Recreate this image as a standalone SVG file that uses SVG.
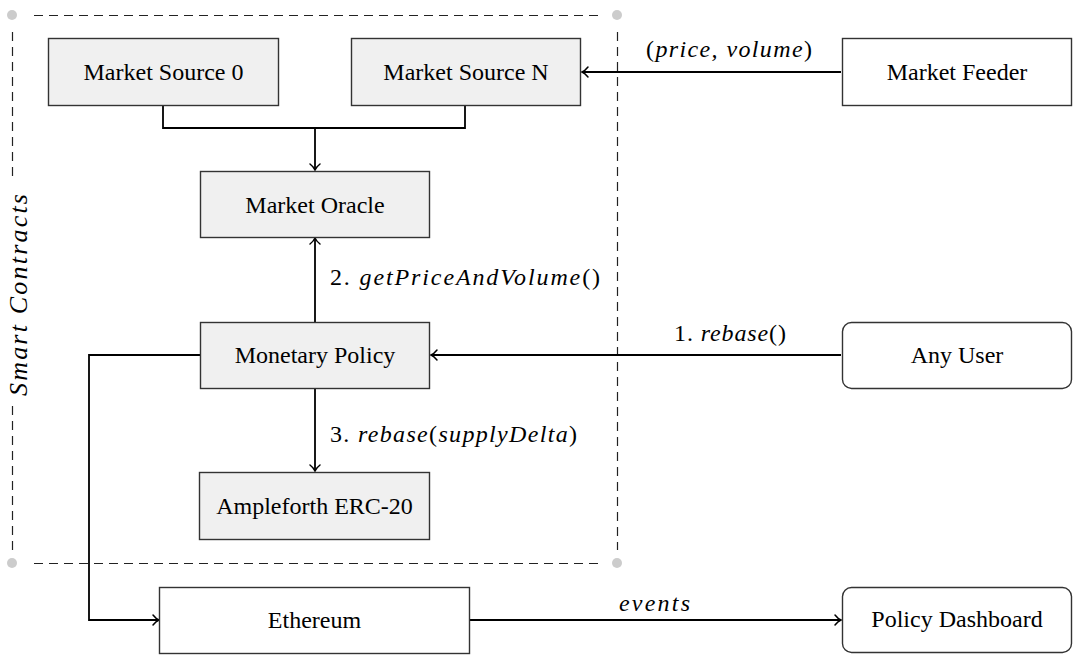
<svg xmlns="http://www.w3.org/2000/svg" width="1084" height="666" viewBox="0 0 1084 666">
<style>
.box{fill:#fff;stroke:#333;stroke-width:1.4}
.gray{fill:#f0f0f0}
.lbl{font-family:"Liberation Serif","Times New Roman",Times,serif;font-size:24px;fill:#000;text-anchor:middle}
.math{font-family:"Liberation Serif","Times New Roman",Times,serif;font-size:24px;fill:#000}
.it{font-style:italic}
.conn{fill:none;stroke:#000;stroke-width:1.8}
.dash{fill:none;stroke:#222;stroke-width:1.2;stroke-dasharray:9 6}
.dot{fill:#ccc}
</style>
<defs>
<marker id="arr" markerUnits="userSpaceOnUse" markerWidth="14" markerHeight="14" viewBox="-8 -7 10 14" refX="0" refY="0" orient="auto">
<path d="M-6,-5 C-4,-2.5 -1.5,-0.6 0,0 C-1.5,0.6 -4,2.5 -6,5" fill="none" stroke="#000" stroke-width="1.5" stroke-linecap="round"/>
</marker>
</defs>
<rect width="1084" height="666" fill="#fff"/>
<g id="smart-contracts-frame">
<path class="dash" d="M34,15.5 H604"/>
<path class="dash" d="M34,563.5 H604"/>
<path class="dash" d="M12.5,32 V182"/>
<path class="dash" d="M12.5,406 V550"/>
<path class="dash" d="M617.5,32 V550"/>
<circle class="dot" cx="12" cy="15" r="5"/>
<circle class="dot" cx="617" cy="15" r="5"/>
<circle class="dot" cx="12" cy="563" r="5"/>
<circle class="dot" cx="617" cy="563" r="5"/>
<text class="math it" style="font-size:26px" transform="translate(27,295) rotate(-90)" text-anchor="middle" textLength="202" lengthAdjust="spacing">Smart Contracts</text>
</g>
<g id="connectors">
<path class="conn" d="M163,105 V128 H465 V105"/>
<path class="conn" d="M315,128 V170" marker-end="url(#arr)"/>
<path class="conn" d="M841,72 H582" marker-end="url(#arr)"/>
<path class="conn" d="M841,355 H431" marker-end="url(#arr)"/>
<path class="conn" d="M315,322 V238" marker-end="url(#arr)"/>
<path class="conn" d="M315,389 V471" marker-end="url(#arr)"/>
<path class="conn" d="M200,355 H89 V620 H159" marker-end="url(#arr)"/>
<path class="conn" d="M470,620 H841" marker-end="url(#arr)"/>
<text class="math" x="646" y="57" textLength="166" lengthAdjust="spacing">(<tspan class="it">price, volume</tspan>)</text>
<text class="math" x="674" y="341" textLength="112" lengthAdjust="spacing">1. <tspan class="it">rebase</tspan>()</text>
<text class="math" x="330" y="285" textLength="270" lengthAdjust="spacing">2. <tspan class="it">getPriceAndVolume</tspan>()</text>
<text class="math" x="330" y="442" textLength="247" lengthAdjust="spacing">3. <tspan class="it">rebase</tspan>(<tspan class="it">supplyDelta</tspan>)</text>
<text class="math it" x="619" y="611" textLength="71" lengthAdjust="spacing">events</text>
</g>
<g id="market-source-0"><rect class="box gray" x="48.5" y="38.5" width="230" height="67"/><text class="lbl" x="163.5" y="80">Market Source 0</text></g>
<g id="market-source-n"><rect class="box gray" x="351.5" y="38.5" width="229" height="67"/><text class="lbl" x="466" y="80">Market Source N</text></g>
<g id="market-feeder"><rect class="box" x="842.5" y="38.5" width="229" height="67"/><text class="lbl" x="957" y="80">Market Feeder</text></g>
<g id="market-oracle"><rect class="box gray" x="200.5" y="171.5" width="229" height="66"/><text class="lbl" x="315" y="213">Market Oracle</text></g>
<g id="monetary-policy"><rect class="box gray" x="200.5" y="322.5" width="229" height="66"/><text class="lbl" x="315" y="363">Monetary Policy</text></g>
<g id="any-user"><rect class="box" x="842.5" y="322.5" width="229" height="66" rx="9"/><text class="lbl" x="957" y="363">Any User</text></g>
<g id="ampleforth-erc20"><rect class="box gray" x="199.5" y="472.5" width="230" height="67"/><text class="lbl" x="314.5" y="514">Ampleforth ERC-20</text></g>
<g id="ethereum"><rect class="box" x="159.5" y="587.5" width="310" height="66"/><text class="lbl" x="314.5" y="628">Ethereum</text></g>
<g id="policy-dashboard"><rect class="box" x="842.5" y="587.5" width="229" height="65" rx="9"/><text class="lbl" x="957" y="627">Policy Dashboard</text></g>
</svg>
